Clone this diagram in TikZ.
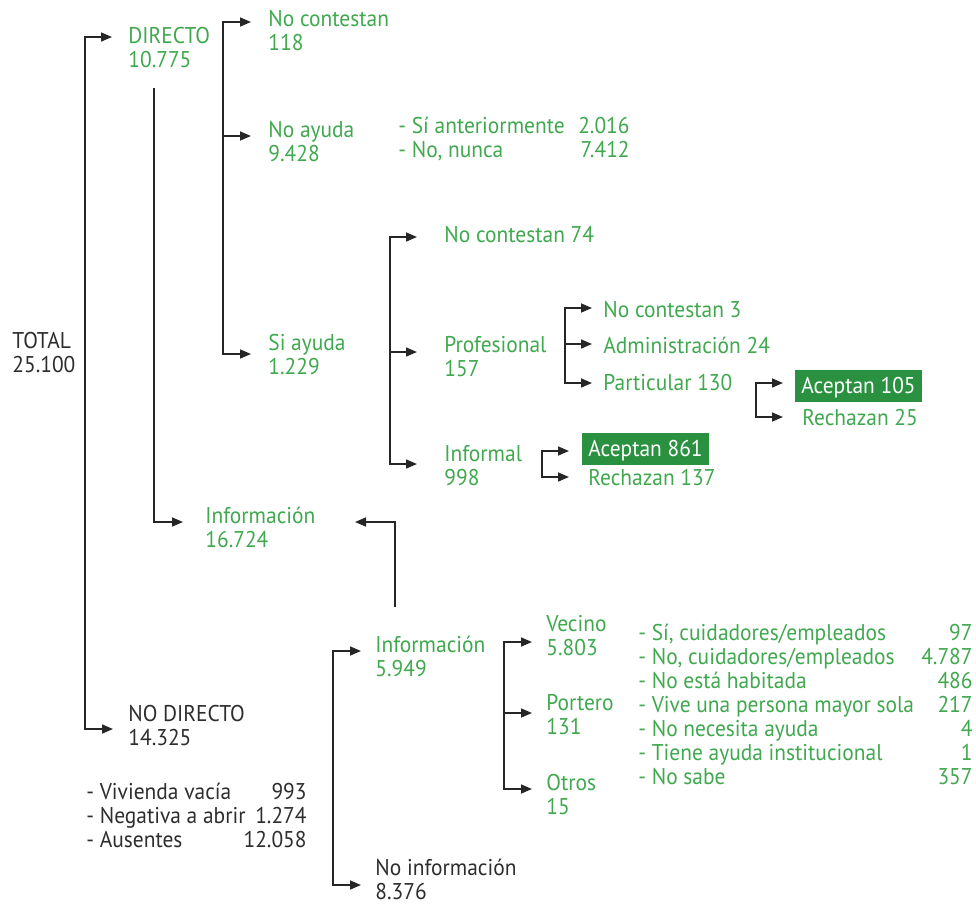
\documentclass[tikz,border=0pt]{standalone}
\usepackage{fontspec}
\setmainfont{PT Sans}[FakeStretch=0.94]
\usepackage{xcolor}
\usetikzlibrary{arrows.meta}
\definecolor{verde}{RGB}{64,168,78}
\definecolor{verdeosc}{RGB}{42,145,64}
\definecolor{gris}{RGB}{45,45,45}

\begin{document}
\begin{tikzpicture}[x=0.5pt,y=-0.5pt,
    every node/.style={inner sep=0pt,anchor=base west,align=left,font=\fontsize{11.4}{12}\selectfont},
    dato/.style={text=verde},
    raiz/.style={text=gris},
    cifra/.style={text=verde,anchor=base east,align=right},
    caja/.style={fill=verdeosc,text=white,inner xsep=3pt,inner ysep=3pt,text height=8.5pt,text depth=1.5pt},
    flecha/.style={-{Triangle[length=5.5pt,width=4.5pt]},line width=0.8pt,draw=black!85},
    doble/.style={{Triangle[length=5.5pt,width=4.5pt]}-{Triangle[length=5.5pt,width=4.5pt]},line width=0.8pt,draw=black!85}]
    \useasboundingbox (0,0) rectangle (976,906);

    \node[raiz] (total) at (12,372) {TOTAL\\25.100};
    \node[dato] (directo) at (128,67) {DIRECTO\\10.775};
    \node[raiz] (nodirecto) at (128,745) {NO DIRECTO\\14.325};
    \node[raiz] (motivos) at (86,847) {- Vivienda vacía\\- Negativa a abrir\\- Ausentes};
    \node[cifra,text=gris] (motivosn) at (307,847) {993\\1.274\\12.058};

    \node[dato] (nocont) at (268,50) {No contestan\\118};
    \node[dato] (noayuda) at (268,161) {No ayuda\\9.428};
    \node[dato] (antes) at (398,157) {- Sí anteriormente\\- No, nunca};
    \node[cifra] (antesn) at (630,157) {2.016\\7.412};
    \node[dato] (siayuda) at (268,374) {Si ayuda\\1.229};

    \node[dato] (nocont74) at (444,242) {No contestan 74};
    \node[dato] (profesional) at (444,376) {Profesional\\157};
    \node[dato] (informal) at (444,485) {Informal\\998};
    \node[dato] (nocont3) at (603,317) {No contestan 3};
    \node[dato] (admin) at (603,353) {Administración 24};
    \node[dato] (particular) at (603,390) {Particular 130};
    \node[caja] (acep105) at (795,393) {Aceptan 105};
    \node[dato] (rech25) at (802,425) {Rechazan 25};
    \node[caja] (acep861) at (582,456) {Aceptan 861};
    \node[dato] (rech137) at (588,485) {Rechazan 137};

    \node[dato] (info1) at (205,547) {Información\\16.724};
    \node[dato] (info2) at (375,676) {Información\\5.949};
    \node[raiz] (noinfo) at (375,899) {No información\\8.376};
    \node[dato] (vecino) at (546,655) {Vecino\\5.803};
    \node[dato] (portero) at (546,734) {Portero\\131};
    \node[dato] (otros) at (546,814) {Otros\\15};
    \node[dato] (respuestas) at (638,784) {- Sí, cuidadores/empleados\\- No, cuidadores/empleados\\- No está habitada\\- Vive una persona mayor sola\\- No necesita ayuda\\- Tiene ayuda institucional\\- No sabe};
    \node[cifra] (respuestasn) at (973,784) {97\\4.787\\486\\217\\4\\1\\357};

    \coordinate (t1) at (85,37);   \coordinate (t1a) at (112,37);
    \coordinate (t2) at (85,729);  \coordinate (t2a) at (113,729);
    \coordinate (d1) at (223,22);  \coordinate (d1a) at (251,22);
    \coordinate (d2) at (223,136); \coordinate (d2a) at (251,136);
    \coordinate (d3) at (223,354); \coordinate (d3a) at (251,354);
    \coordinate (i1) at (154,88);  \coordinate (i2) at (154,522);
    \coordinate (i2a) at (183,522);
    \coordinate (v1) at (395,607); \coordinate (v2) at (395,522);
    \coordinate (v2a) at (355,522);
    \coordinate (s1) at (390,237); \coordinate (s1a) at (417,237);
    \coordinate (s2) at (390,352); \coordinate (s2a) at (417,352);
    \coordinate (s3) at (390,464); \coordinate (s3a) at (417,464);
    \coordinate (p1) at (565,308); \coordinate (p1a) at (592,308);
    \coordinate (p2) at (565,344); \coordinate (p2a) at (592,344);
    \coordinate (p3) at (565,383); \coordinate (p3a) at (592,383);
    \coordinate (r1) at (756,383); \coordinate (r1a) at (783,383);
    \coordinate (r2) at (756,417); \coordinate (r2a) at (783,417);
    \coordinate (f1) at (542,451); \coordinate (f1a) at (569,451);
    \coordinate (f2) at (542,477); \coordinate (f2a) at (569,477);
    \coordinate (n1) at (333,651); \coordinate (n1a) at (361,651);
    \coordinate (n2) at (333,885); \coordinate (n2a) at (361,885);
    \coordinate (o1) at (504,642); \coordinate (o1a) at (532,642);
    \coordinate (o2) at (504,713); \coordinate (o2a) at (532,713);
    \coordinate (o3) at (504,789); \coordinate (o3a) at (532,789);

    \draw[doble] (t1a) -- (t1) -- (t2) -- (t2a);
    \draw[doble] (d1a) -- (d1) -- (d3) -- (d3a);
    \draw[flecha] (d2) -- (d2a);
    \draw[flecha] (i1) -- (i2) -- (i2a);
    \draw[flecha] (v1) -- (v2) -- (v2a);
    \draw[doble] (s1a) -- (s1) -- (s3) -- (s3a);
    \draw[flecha] (s2) -- (s2a);
    \draw[doble] (p1a) -- (p1) -- (p3) -- (p3a);
    \draw[flecha] (p2) -- (p2a);
    \draw[doble] (r1a) -- (r1) -- (r2) -- (r2a);
    \draw[doble] (f1a) -- (f1) -- (f2) -- (f2a);
    \draw[doble] (n1a) -- (n1) -- (n2) -- (n2a);
    \draw[doble] (o1a) -- (o1) -- (o3) -- (o3a);
    \draw[flecha] (o2) -- (o2a);
\end{tikzpicture}
\end{document}
